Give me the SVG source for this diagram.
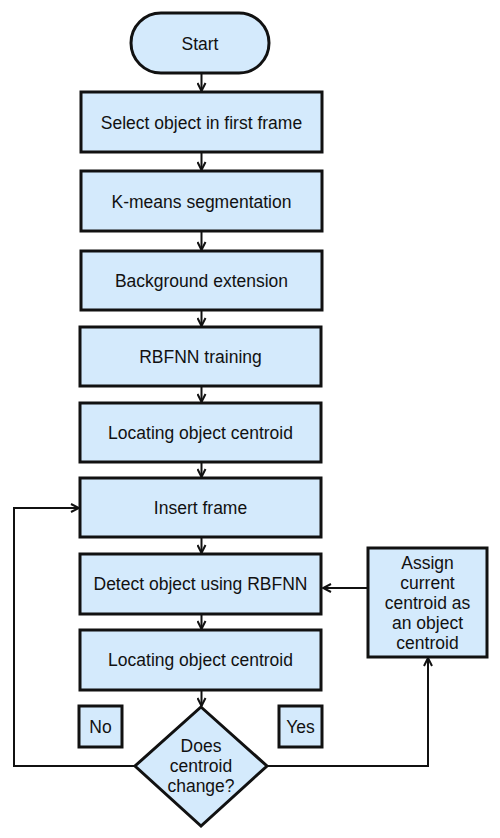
<svg xmlns="http://www.w3.org/2000/svg" width="500" height="838" viewBox="0 0 500 838">
<defs>
<style>
.n{fill:#d4eafc;stroke:#111;stroke-width:3}
.t{font-family:"Liberation Sans",Arial,sans-serif;font-size:17.5px;fill:#111;text-anchor:middle}
.c{fill:none;stroke:#111;stroke-width:2}
</style>
<marker id="a" viewBox="0 0 10 10" refX="9" refY="5" markerWidth="10" markerHeight="10" markerUnits="userSpaceOnUse" orient="auto">
<path d="M1,1 L9,5 L1,9" fill="none" stroke="#111" stroke-width="2"/>
</marker>
</defs>
<rect width="500" height="838" fill="#fff"/>
<g id="connectors">
<line class="c" x1="201.5" y1="73" x2="201.5" y2="91" marker-end="url(#a)"/>
<line class="c" x1="201.5" y1="152" x2="201.5" y2="170" marker-end="url(#a)"/>
<line class="c" x1="201.5" y1="231" x2="201.5" y2="250" marker-end="url(#a)"/>
<line class="c" x1="201.5" y1="310" x2="201.5" y2="326" marker-end="url(#a)"/>
<line class="c" x1="201.5" y1="386" x2="201.5" y2="402" marker-end="url(#a)"/>
<line class="c" x1="201.5" y1="462" x2="201.5" y2="477" marker-end="url(#a)"/>
<line class="c" x1="201.5" y1="537" x2="201.5" y2="553" marker-end="url(#a)"/>
<line class="c" x1="201.5" y1="614" x2="201.5" y2="629" marker-end="url(#a)"/>
<line class="c" x1="201.5" y1="690" x2="201.5" y2="706" marker-end="url(#a)"/>
<polyline class="c" points="135,766 14,766 14,508 79,508" marker-end="url(#a)"/>
<polyline class="c" points="267,766 428,766 428,658" marker-end="url(#a)"/>
<line class="c" x1="368" y1="588" x2="323" y2="588" marker-end="url(#a)"/>
</g>
<g id="start">
<rect class="n" x="131" y="13" width="138" height="60" rx="30" ry="30"/>
<text class="t" x="200" y="50">Start</text>
</g>
<g id="select">
<rect class="n" x="81" y="92" width="241" height="60"/>
<text class="t" x="201.5" y="129">Select object in first frame</text>
</g>
<g id="kmeans">
<rect class="n" x="81" y="171" width="241" height="60"/>
<text class="t" x="201.5" y="208">K-means segmentation</text>
</g>
<g id="background">
<rect class="n" x="81" y="251" width="241" height="59"/>
<text class="t" x="201.5" y="287">Background extension</text>
</g>
<g id="rbfnn">
<rect class="n" x="80" y="327" width="241" height="59"/>
<text class="t" x="200.5" y="363">RBFNN training</text>
</g>
<g id="locate1">
<rect class="n" x="80" y="403" width="241" height="59"/>
<text class="t" x="200.5" y="439">Locating object centroid</text>
</g>
<g id="insert">
<rect class="n" x="80" y="478" width="241" height="59"/>
<text class="t" x="200.5" y="514">Insert frame</text>
</g>
<g id="detect">
<rect class="n" x="80" y="554" width="241" height="60"/>
<text class="t" x="200.5" y="590">Detect object using RBFNN</text>
</g>
<g id="locate2">
<rect class="n" x="80" y="630" width="241" height="60"/>
<text class="t" x="200.5" y="666">Locating object centroid</text>
</g>
<g id="decision">
<polygon class="n" points="201,707 267,766 201,826 135,766"/>
<text class="t" x="201" y="752">Does</text>
<text class="t" x="201" y="772">centroid</text>
<text class="t" x="201" y="792">change?</text>
</g>
<g id="no">
<rect class="n" x="79" y="706" width="43" height="41"/>
<text class="t" x="100.5" y="733">No</text>
</g>
<g id="yes">
<rect class="n" x="279" y="706" width="43" height="41"/>
<text class="t" x="300.5" y="733">Yes</text>
</g>
<g id="assign">
<rect class="n" x="368" y="548" width="119" height="109"/>
<text class="t" x="427.5" y="569">Assign</text>
<text class="t" x="427.5" y="589">current</text>
<text class="t" x="427.5" y="609">centroid as</text>
<text class="t" x="427.5" y="629">an object</text>
<text class="t" x="427.5" y="649">centroid</text>
</g>
</svg>
